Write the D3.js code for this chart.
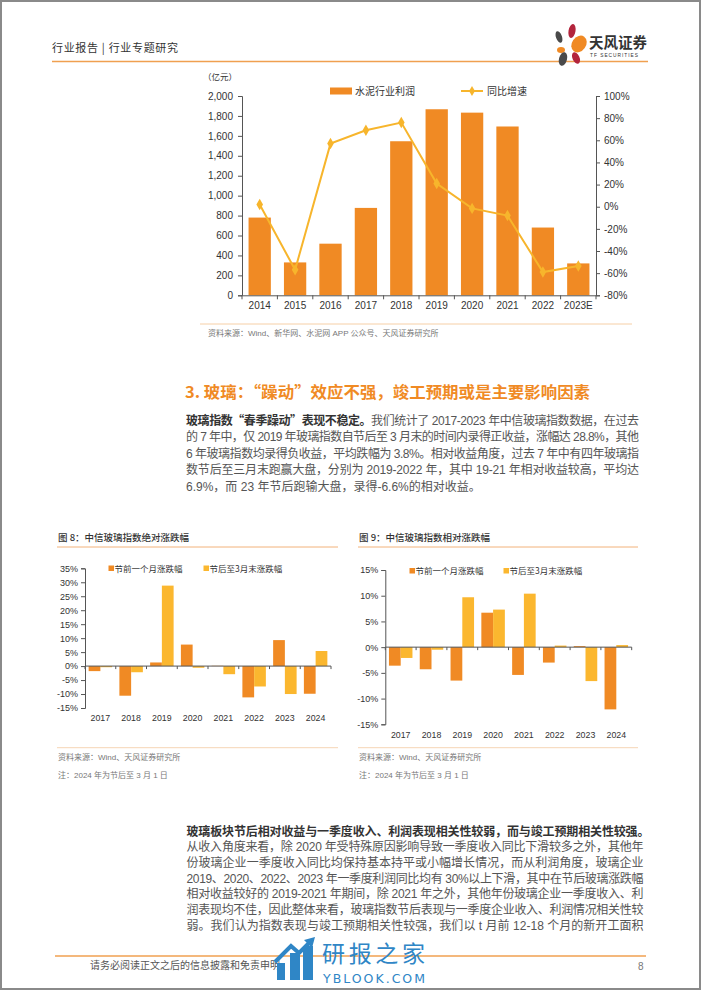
<!DOCTYPE html>
<html><head><meta charset="utf-8">
<script src="https://cdn.jsdelivr.net/npm/d3@7/dist/d3.min.js"></script>
<style>body{margin:0;background:#fff}svg{display:block}</style>
</head><body>
<script>
// ---------- DATA ----------
const years1 = ["2014","2015","2016","2017","2018","2019","2020","2021","2022","2023E"];
const profit = [780, 330, 518, 877, 1546, 1867, 1833, 1694, 680, 320];      // 水泥行业利润 (亿元)
const growth = [2, -57, 57, 69, 76, 21, -1.5, -8, -59, -53.5];             // 同比增速 (%)
const leftTicks = [0,200,400,600,800,1000,1200,1400,1600,1800,2000];
const rightTicks = [-80,-60,-40,-20,0,20,40,60,80,100];

const years2 = ["2017","2018","2019","2020","2021","2022","2023","2024"];
const pre8  = [-1.8, -10.6, 1.3, 7.7, 0.1, -11.2, 9.3, -9.9];   // 节前一个月涨跌幅
const post8 = [-0.4, -2.2, 28.8, -0.6, -2.9, -7.3, -10.0, 5.4]; // 节后至3月末涨跌幅
const ticks8 = [-15,-10,-5,0,5,10,15,20,25,30,35];
const pre9  = [-3.6, -4.3, -6.5, 6.7, -5.4, -3.0, 0.2, -12.1];
const post9 = [-2.1, -0.5, 9.7, 7.3, 10.4, 0.3, -6.6, 0.4];
const ticks9 = [-15,-10,-5,0,5,10,15];
const seriesNames = ["节前一个月涨跌幅","节后至3月末涨跌幅"];

// ---------- SETUP ----------
const W=702,H=991;
const ORANGE="#f08a24", YELLOW="#fbb72f", LINEY="#f7b52c";
const LAT="'Liberation Sans', Arial, 'Noto Sans CJK SC', sans-serif";
const CJK="'Noto Sans CJK SC', 'Liberation Sans', sans-serif";
const svg=d3.select("body").append("svg").attr("width",W).attr("height",H)
  .style("font-family",LAT);

// page border
svg.append("rect").attr("x",1).attr("y",1).attr("width",699).attr("height",988)
  .attr("fill","none").attr("stroke","#8a8a8a").attr("stroke-width",2);

// mixed text helper
function mixText(parent, x, y, parts, size, color, len){
  const t=parent.append("text").attr("x",x).attr("y",y).attr("font-size",size).attr("fill",color);
  parts.forEach(p=>{
    const str=p.t;
    (str.match(/[\x00-\x7F]+|[^\x00-\x7F]+/g)||[]).forEach(run=>{
      const ascii=/^[\x00-\x7F]+$/.test(run);
      t.append("tspan").attr("font-family",ascii?LAT:CJK)
        .attr("font-weight",p.b?"bold":null).attr("fill",p.c||null)
        .style("white-space","pre").text(run);
    });
  });
  if(len){t.attr("textLength",len).attr("lengthAdjust","spacing");}
  return t;
}

// ---------- HEADER ----------
svg.append("text").attr("x",52).attr("y",52).attr("font-family",CJK).attr("font-size",11)
  .attr("fill","#333").style("white-space","pre").attr("textLength",126).text("行业报告 | 行业专题研究");
svg.append("line").attr("x1",52).attr("x2",648).attr("y1",61.5).attr("y2",61.5)
  .attr("stroke","#f0a050").attr("stroke-width",1.5);
// logo
const logo=svg.append("g");
[[559,37,3,6,-20,"#4a4a4a"],[572,31,3.5,7,10,"#b3243c"],[579,44,7,9,35,ORANGE],
 [561,50,4,3,0,ORANGE],[563,59,4,7,15,"#4a4a4a"],[576,58,3.5,6,-25,"#b3243c"]]
 .forEach(([cx,cy,rx,ry,rot,col])=>logo.append("ellipse").attr("cx",cx).attr("cy",cy)
   .attr("rx",rx).attr("ry",ry).attr("transform",`rotate(${rot},${cx},${cy})`).attr("fill",col));
svg.append("text").attr("x",589).attr("y",48).attr("font-family",CJK).attr("font-weight","bold")
  .attr("font-size",14.5).attr("fill","#333").text("天风证券");
svg.append("text").attr("x",590).attr("y",57).attr("font-size",4.8).attr("fill","#333")
  .attr("textLength",48).text("TF SECURITIES");

// ---------- CHART 1 ----------
const c1={l:242,r:596,t:96,b:295.3};
const g1=svg.append("g");
const x1=d3.scaleBand().domain(years1).range([c1.l,c1.r]).paddingInner(0.37).paddingOuter(0.185);
const yL=d3.scaleLinear().domain([0,2000]).range([c1.b,c1.t]);
const yR=d3.scaleLinear().domain([-80,100]).range([c1.b,c1.t]);
g1.selectAll("rect.bar").data(profit).join("rect").attr("class","bar")
  .attr("x",(d,i)=>x1(years1[i])).attr("y",d=>yL(d)).attr("width",x1.bandwidth())
  .attr("height",d=>yL(0)-yL(d)).attr("fill",ORANGE);
const axL=g1.append("g").attr("transform",`translate(${c1.l},0)`)
  .call(d3.axisLeft(yL).tickValues(leftTicks).tickFormat(d3.format(",")).tickSize(4).tickPadding(5));
const axR=g1.append("g").attr("transform",`translate(${c1.r},0)`)
  .call(d3.axisRight(yR).tickValues(rightTicks).tickFormat(d=>d+"%").tickSize(4).tickPadding(4));
const axB=g1.append("g").attr("transform",`translate(0,${c1.b})`)
  .call(d3.axisBottom(x1).tickSize(0).tickPadding(7));
const step1=x1.step();
g1.selectAll("line.bt").data(d3.range(years1.length+1)).join("line")
  .attr("x1",i=>c1.l+i*step1).attr("x2",i=>c1.l+i*step1).attr("y1",c1.b).attr("y2",c1.b+4)
  .attr("stroke","#555");
[axL,axR,axB].forEach(a=>{a.selectAll("path,line").attr("stroke","#555");
  a.selectAll("text").attr("font-size",10).attr("fill","#333").attr("font-family",LAT);});
const line1=d3.line().x((d,i)=>x1(years1[i])+x1.bandwidth()/2).y(d=>yR(d));
g1.append("path").datum(growth).attr("d",line1).attr("fill","none").attr("stroke",LINEY).attr("stroke-width",2);
g1.selectAll("path.mk").data(growth).join("path").attr("class","mk")
  .attr("d",d3.symbol(d3.symbolDiamond).size(38))
  .attr("transform",(d,i)=>`translate(${x1(years1[i])+x1.bandwidth()/2},${yR(d)})`).attr("fill",LINEY);
svg.append("text").attr("x",203).attr("y",80).attr("font-family",CJK).attr("font-size",8.5)
  .attr("fill","#333").text("（亿元）");
svg.append("rect").attr("x",330).attr("y",87.5).attr("width",22).attr("height",7).attr("fill",ORANGE);
svg.append("text").attr("x",355).attr("y",95).attr("font-family",CJK).attr("font-size",10).attr("fill","#333").text("水泥行业利润");
svg.append("line").attr("x1",461).attr("x2",483).attr("y1",91).attr("y2",91).attr("stroke",LINEY).attr("stroke-width",2);
svg.append("path").attr("d",d3.symbol(d3.symbolDiamond).size(30)).attr("transform","translate(472,91)").attr("fill",LINEY);
svg.append("text").attr("x",487).attr("y",95).attr("font-family",CJK).attr("font-size",10).attr("fill","#333").text("同比增速");
svg.append("line").attr("x1",200).attr("x2",632).attr("y1",324).attr("y2",324).attr("stroke","#f6cfa6").attr("stroke-width",1);
mixText(svg,208,336,[{t:"资料来源：Wind、新华网、水泥网 APP 公众号、天风证券研究所"}],8,"#777");

// ---------- HEADING + PARAGRAPH ----------
svg.append("text").attr("x",185).attr("y",398).attr("font-family",CJK).attr("font-weight","bold")
  .attr("font-size",15.5).attr("fill",ORANGE).attr("textLength",405).attr("lengthAdjust","spacingAndGlyphs")
  .text("3. 玻璃：“躁动”效应不强，竣工预期或是主要影响因素");
const para1=[
 [{t:"玻璃指数“春季躁动”表现不稳定。",b:1,c:"#333"},{t:"我们统计了 2017-2023 年中信玻璃指数数据，在过去"}],
 [{t:"的 7 年中，仅 2019 年玻璃指数自节后至 3 月末的时间内录得正收益，涨幅达 28.8%，其他"}],
 [{t:"6 年玻璃指数均录得负收益，平均跌幅为 3.8%。相对收益角度，过去 7 年中有四年玻璃指"}],
 [{t:"数节后至三月末跑赢大盘，分别为 2019-2022 年，其中 19-21 年相对收益较高，平均达"}],
 [{t:"6.9%，而 23 年节后跑输大盘，录得-6.6%的相对收益。"}]
];
para1.forEach((ln,i)=>mixText(svg,186,424.5+i*16.6,ln,12,"#555",i<4?453:null));

// ---------- SMALL BAR CHARTS ----------
function smallChart(o){
  const g=svg.append("g");
  g.append("text").attr("x",o.tx).attr("y",o.ty).attr("font-family",CJK).attr("font-size",9.5)
    .attr("font-weight",500).attr("fill","#333").text(o.title);
  g.append("line").attr("x1",o.tx-1).attr("x2",o.lineR).attr("y1",547).attr("y2",547).attr("stroke","#f2b27a").attr("stroke-width",1);
  g.append("line").attr("x1",o.tx-1).attr("x2",o.lineR).attr("y1",747.7).attr("y2",747.7).attr("stroke","#f6d6b6").attr("stroke-width",1);
  mixText(g,o.tx,760,[{t:"资料来源：Wind、天风证券研究所"}],8,"#777");
  mixText(g,o.tx,778,[{t:"注：2024 年为节后至 3 月 1 日"}],8,"#777");
  const x=d3.scaleBand().domain(years2).range([o.l,o.r]);
  const sub=d3.scaleBand().domain(["pre","post"]).range([0,x.bandwidth()]).paddingOuter(0.31);
  const y=d3.scaleLinear().domain(o.dom).range([o.b,o.t]);
  const rows=years2.map((yr,i)=>[{k:"pre",yr,v:o.pre[i]},{k:"post",yr,v:o.post[i]}]).flat();
  g.selectAll("rect.b").data(rows).join("rect").attr("class","b")
    .attr("x",d=>x(d.yr)+sub(d.k)).attr("width",sub.bandwidth())
    .attr("y",d=>y(Math.max(0,d.v))).attr("height",d=>Math.abs(y(d.v)-y(0)))
    .attr("fill",d=>d.k==="pre"?ORANGE:YELLOW);
  const ax=g.append("g").attr("transform",`translate(${o.l},0)`)
    .call(d3.axisLeft(y).tickValues(o.ticks).tickFormat(d=>d+"%").tickSize(4).tickPadding(3));
  ax.selectAll("path,line").attr("stroke","#555");
  ax.selectAll("text").attr("font-size",9).attr("fill","#333").attr("font-family",LAT);
  g.append("line").attr("x1",o.l).attr("x2",o.r).attr("y1",y(0)).attr("y2",y(0)).attr("stroke","#555");
  g.selectAll("line.bt").data(d3.range(years2.length+1)).join("line")
    .attr("x1",i=>o.l+i*x.step()).attr("x2",i=>o.l+i*x.step()).attr("y1",y(0)).attr("y2",y(0)+3).attr("stroke","#555");
  g.selectAll("text.yr").data(years2).join("text").attr("class","yr")
    .attr("x",d=>x(d)+x.bandwidth()/2).attr("y",o.yrY).attr("text-anchor","middle")
    .attr("font-size",8.8).attr("fill","#333").text(d=>d);
  [[o.lg1,ORANGE,seriesNames[0]],[o.lg2,YELLOW,seriesNames[1]]].forEach(([lx,col,name])=>{
    g.append("rect").attr("x",lx).attr("y",o.lgY-6).attr("width",5.5).attr("height",5.5).attr("fill",col);
    g.append("text").attr("x",lx+6).attr("y",o.lgY).attr("font-family",CJK).attr("font-size",8.5).attr("fill","#333").text(name);
  });
}
smallChart({title:"图 8：中信玻璃指数绝对涨跌幅",tx:58,ty:541,lineR:338,l:85,r:331,t:568.3,b:708,
  dom:[-15,35],ticks:ticks8,pre:pre8,post:post8,yrY:721,lg1:108.5,lg2:203.5,lgY:571.5});
smallChart({title:"图 9：中信玻璃指数相对涨跌幅",tx:359,ty:541,lineR:638,l:385.3,r:631.7,t:570,b:724.3,
  dom:[-15,15],ticks:ticks9,pre:pre9,post:post9,yrY:737.5,lg1:409.5,lg2:503.5,lgY:574});

// ---------- BOTTOM PARAGRAPH ----------
const para2=[
 [{t:"玻璃板块节后相对收益与一季度收入、利润表现相关性较弱，而与竣工预期相关性较强。",b:1,c:"#333"}],
 [{t:"从收入角度来看，除 2020 年受特殊原因影响导致一季度收入同比下滑较多之外，其他年"}],
 [{t:"份玻璃企业一季度收入同比均保持基本持平或小幅增长情况，而从利润角度，玻璃企业"}],
 [{t:"2019、2020、2022、2023 年一季度利润同比均有 30%以上下滑，其中在节后玻璃涨跌幅"}],
 [{t:"相对收益较好的 2019-2021 年期间，除 2021 年之外，其他年份玻璃企业一季度收入、利"}],
 [{t:"润表现均不佳，因此整体来看，玻璃指数节后表现与一季度企业收入、利润情况相关性较"}],
 [{t:"弱。我们认为指数表现与竣工预期相关性较强，我们以 t 月前 12-18 个月的新开工面积"}]
];
para2.forEach((ln,i)=>mixText(svg,186.5,835.5+i*15.7,ln,12,"#555",i===0?463:457));

// ---------- FOOTER ----------
svg.append("line").attr("x1",55).attr("x2",646).attr("y1",956).attr("y2",956).attr("stroke","#f0a050").attr("stroke-width",1.5);
svg.append("text").attr("x",90).attr("y",969).attr("font-family",CJK).attr("font-size",10).attr("fill","#555").text("请务必阅读正文之后的信息披露和免责申明");
svg.append("text").attr("x",638).attr("y",970).attr("font-size",10).attr("fill","#777").text("8");
// watermark
const wm=svg.append("g").attr("fill","#2f86c6");
[[277,963,8,17],[290,953,10,27],[303,946,10,34]].forEach(([x,y,w,h])=>wm.append("rect").attr("x",x).attr("y",y).attr("width",w).attr("height",h));
wm.append("path").attr("d","M275,962 L291,946 L299,953 L309,943").attr("fill","none").attr("stroke","#2f86c6").attr("stroke-width",4);
wm.append("path").attr("d","M304,940 L315,937 L312,948 Z");
wm.append("text").attr("x",322).attr("y",962).attr("font-family",CJK).attr("font-size",23).attr("textLength",103).text("研报之家");
wm.append("text").attr("x",323).attr("y",983).attr("font-family","'DejaVu Sans', sans-serif").attr("font-size",12.5).attr("textLength",102).text("YBLOOK.COM");
</script>
</body></html>
